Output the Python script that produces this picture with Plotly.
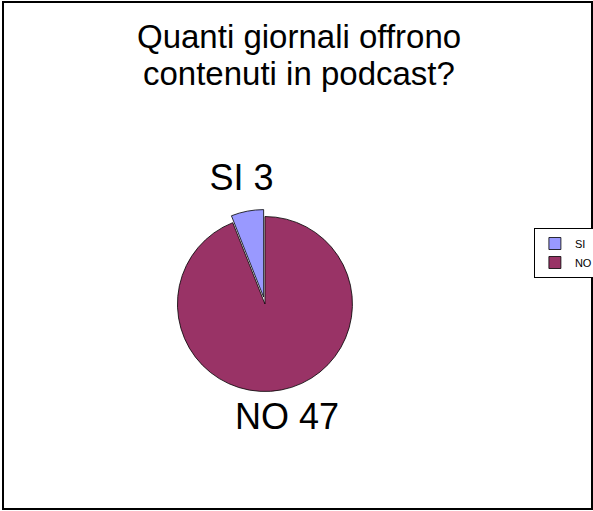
import plotly.graph_objects as go

labels = ["SI", "NO"]
values = [3, 47]
colors = ["#9999FF", "#993366"]
pulls = [0.08, 0]
title_lines = ["Quanti giornali offrono", "contenuti in podcast?"]

W, H = 593, 511          # target picture size (design coordinates)
W_LAYOUT = 598           # page is captured slightly wider, then fitted to 593
FONT = "Liberation Sans, Arial"

# SI slice sits just left of 12 o'clock, slices run clockwise from there
total = sum(values)
start_rotation = -360.0 * values[0] / total

# middle angle of every slice (degrees clockwise from 12 o'clock)
mid_angles = []
acc = start_rotation
for v in values:
    mid_angles.append((acc + 360.0 * v / total / 2) % 360)
    acc += 360.0 * v / total
label_text = [f"{l} {v}" for l, v in zip(labels, values)]
label_r = [1.35 + p for p in pulls]

# pie circle geometry (pixels) -> domains
cx, cy, R = 264.5, 304.0, 87.5
cy_up = H - cy
pmax = max(pulls)
RMAX = 1.6  # radial range of the label layer, in pie radii
pie_dom = dict(x=[(cx - R * (1 + pmax)) / W, (cx + R * (1 + pmax)) / W],
               y=[(cy_up - R * (1 + pmax)) / H, (cy_up + R * (1 + pmax)) / H])
pol_dom = dict(x=[(cx - R * RMAX) / W, (cx + R * RMAX) / W],
               y=[(cy_up - R * RMAX) / H, (cy_up + R * RMAX) / H])

fig = go.Figure()
fig.add_trace(go.Pie(
    labels=labels,
    values=values,
    sort=False,
    direction="clockwise",
    rotation=start_rotation,
    pull=pulls,
    marker=dict(colors=colors, line=dict(color="black", width=0.8)),
    textinfo="none",
    domain=pie_dom,
    hoverinfo="label+value",
))
fig.add_trace(go.Scatterpolar(
    r=label_r, theta=mid_angles, mode="text", text=label_text,
    textposition="middle center", cliponaxis=False,
    textfont=dict(size=36, color="black", family=FONT),
    showlegend=False, hoverinfo="skip",
))

title_y = [36.5, 73.5]
annotations = [
    dict(text=t, x=298 / W, y=1 - yy / H, xref="paper", yref="paper",
         xanchor="center", yanchor="middle", showarrow=False,
         font=dict(size=33, color="black", family=FONT))
    for t, yy in zip(title_lines, title_y)
]

fig.update_layout(
    width=W_LAYOUT, height=H, autosize=False,
    margin=dict(l=0, r=0, t=0, b=0),
    paper_bgcolor="white",
    plot_bgcolor="white",
    font=dict(family=FONT, color="black"),
    annotations=annotations,
    polar=dict(domain=pol_dom, bgcolor="rgba(0,0,0,0)", hole=0,
               angularaxis=dict(rotation=90, direction="clockwise",
                                showgrid=False, showline=False, showticklabels=False,
                                ticks=""),
               radialaxis=dict(range=[0, RMAX], showgrid=False,
                               showline=False, showticklabels=False, ticks="")),
    legend=dict(x=533 / W, xanchor="left", y=1 - 228 / H, yanchor="top",
                bordercolor="black", borderwidth=1, bgcolor="white",
                font=dict(size=11, color="black", family=FONT),
                itemwidth=30, tracegroupgap=0),
    shapes=[dict(type="rect", xref="paper", yref="paper",
                 x0=3 / W, x1=591 / W, y0=1 - 509 / H, y1=1 - 2 / H,
                 line=dict(color="black", width=2))],
)

post = ("document.body.style.margin='0';document.body.style.padding='0';"
        "var gd=document.getElementById('{plot_id}');"
        "gd.style.position='fixed';gd.style.left='0px';gd.style.top='0px';")

fig.write_html("out.html", config={"displayModeBar": False, "responsive": False},
               post_script=post)
